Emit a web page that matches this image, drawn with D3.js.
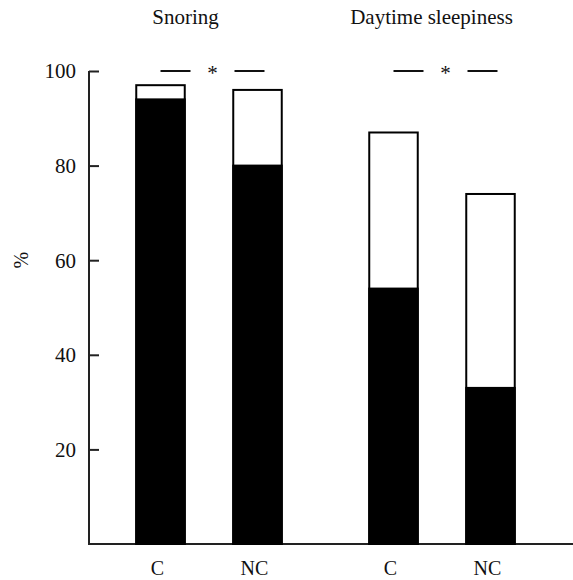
<!DOCTYPE html>
<html>
<head>
<meta charset="utf-8">
<script src="https://cdn.jsdelivr.net/npm/d3@7"></script>
<style>
  body { margin: 0; background: #fff; }
  text { font-family: "Liberation Serif", "Times New Roman", serif; fill: #111; }
</style>
</head>
<body>
<svg></svg>
<script>
const groups = ["Snoring", "Daytime sleepiness"];
const subgroups = ["C", "NC"];
// total bar height and the black (lower) part, in %
const totals = [[97, 96], [87, 74]];
const blacks = [[94, 80], [54, 33]];
const yTicks = [20, 40, 60, 80, 100];

const width = 573, height = 580;
const svg = d3.select("svg").attr("width", width).attr("height", height);

const y = d3.scaleLinear().domain([0, 100]).range([544, 71]);

const x0 = d3.scaleBand().domain(groups).range([92, 558]);
const x1 = d3.scaleBand().domain(subgroups)
  .range([20, 214])
  .paddingInner(0.5).paddingOuter(0.25);

const axisX = 89;

// y axis
const yAxis = svg.append("g")
  .attr("transform", `translate(${axisX},0)`)
  .call(d3.axisRight(y).tickValues(yTicks).tickSize(10).tickSizeOuter(0).tickFormat(""));
yAxis.select(".domain").remove();
yAxis.selectAll(".tick line").attr("stroke", "#222").attr("stroke-width", 2);

svg.append("line")
  .attr("x1", axisX).attr("x2", axisX)
  .attr("y1", y(100)).attr("y2", y(0) + 1)
  .attr("stroke", "#222").attr("stroke-width", 2);
svg.append("line")
  .attr("x1", axisX - 1).attr("x2", width)
  .attr("y1", y(0)).attr("y2", y(0))
  .attr("stroke", "#222").attr("stroke-width", 2);

svg.append("g").selectAll("text")
  .data(yTicks)
  .join("text")
  .attr("x", axisX - 13)
  .attr("y", d => y(d))
  .attr("dy", "0.35em")
  .attr("text-anchor", "end")
  .attr("font-size", 21)
  .text(d => d);

svg.append("text")
  .attr("transform", `translate(28,${y(60)}) rotate(-90)`)
  .attr("text-anchor", "middle")
  .attr("font-size", 20)
  .text("%");

// bars
groups.forEach((g, gi) => {
  const gx = x0(g);
  subgroups.forEach((s, si) => {
    const bx = gx + x1(s), bw = x1.bandwidth();
    svg.append("rect")
      .attr("x", bx).attr("width", bw)
      .attr("y", y(totals[gi][si])).attr("height", y(0) - y(totals[gi][si]))
      .attr("fill", "#fff").attr("stroke", "#000").attr("stroke-width", 2);
    svg.append("rect")
      .attr("x", bx).attr("width", bw)
      .attr("y", y(blacks[gi][si])).attr("height", y(0) - y(blacks[gi][si]))
      .attr("fill", "#000").attr("stroke", "#000").attr("stroke-width", 2);
    svg.append("text")
      .attr("x", bx + bw / 2 - 3)
      .attr("y", 575)
      .attr("text-anchor", "middle")
      .attr("font-size", 20)
      .text(s);
  });

  // significance marker
  const c = gx + x0.bandwidth() / 2 + 4;
  [[-52, -22], [22, 52]].forEach(([a, b]) => {
    svg.append("line")
      .attr("x1", c + a).attr("x2", c + b)
      .attr("y1", y(100)).attr("y2", y(100))
      .attr("stroke", "#111").attr("stroke-width", 2);
  });
  svg.append("text")
    .attr("x", c).attr("y", y(100) + 9)
    .attr("text-anchor", "middle")
    .attr("font-size", 21)
    .text("*");
});

// group titles
const titleShift = [-23, -10];
svg.append("g").selectAll("text")
  .data(groups)
  .join("text")
  .attr("x", (d, i) => x0(d) + x0.bandwidth() / 2 + titleShift[i])
  .attr("y", 24)
  .attr("text-anchor", "middle")
  .attr("font-size", 21)
  .text(d => d);
</script>
</body>
</html>
